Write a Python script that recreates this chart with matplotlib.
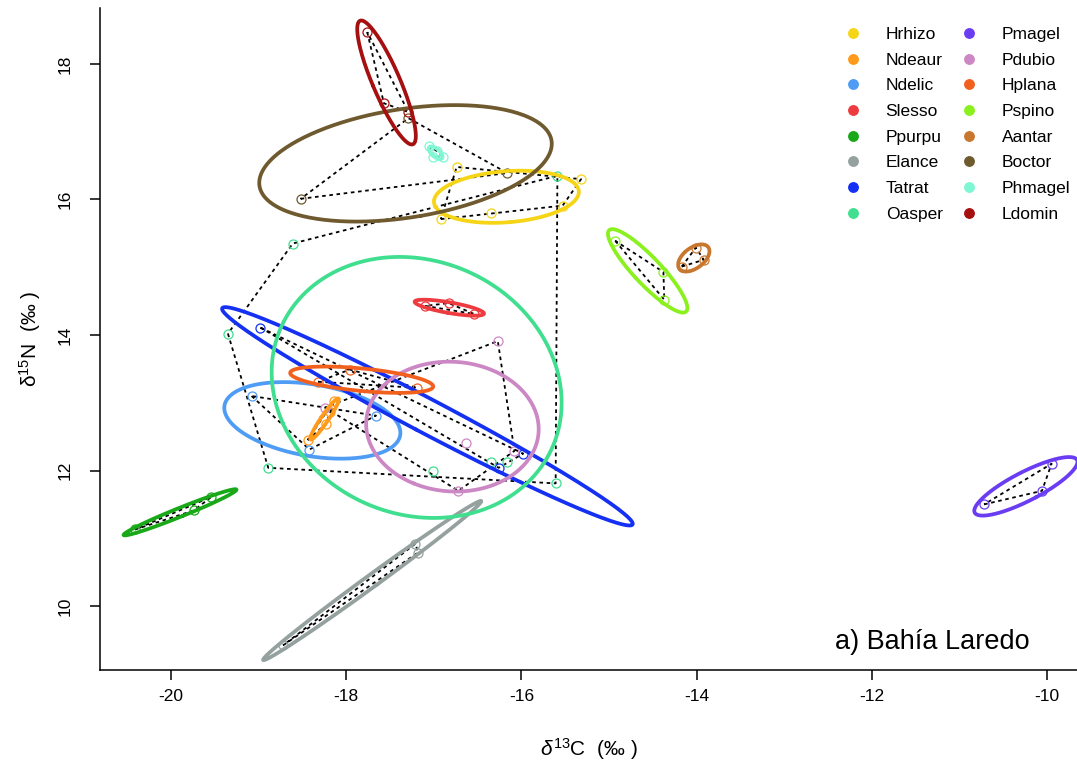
import numpy as np
import matplotlib
matplotlib.use('Agg')
import matplotlib.pyplot as plt
from matplotlib.lines import Line2D

plt.rcParams['font.family'] = ['Liberation Sans', 'DejaVu Sans']
plt.rcParams['mathtext.fontset'] = 'custom'
plt.rcParams['mathtext.rm'] = 'Liberation Sans'
plt.rcParams['mathtext.it'] = 'Liberation Sans:italic'

# ---------------- data (d13C, d15N) ----------------
species = ['Hrhizo', 'Ndeaur', 'Ndelic', 'Slesso', 'Ppurpu', 'Elance', 'Tatrat', 'Oasper',
           'Pmagel', 'Pdubio', 'Hplana', 'Pspino', 'Aantar', 'Boctor', 'Phmagel', 'Ldomin']
colors = ['#F5D515', '#FF9A1A', '#4F9CF5', '#EE3B40', '#18A818', '#95A19F', '#1430F2', '#40DE8F',
          '#6A3CF2', '#CC88C4', '#F2601E', '#8AF01E', '#C8782E', '#6E5A2E', '#7FF7D2', '#A50F10']

Hrhizo_x = [-16.74, -15.32, -15.53, -16.35, -16.92]
Hrhizo_y = [16.48, 16.30, 15.91, 15.80, 15.71]
Ndeaur_x = [-18.14, -18.18, -18.23, -18.44]
Ndeaur_y = [13.03, 12.87, 12.69, 12.45]
Ndelic_x = [-19.08, -18.42, -17.66]
Ndelic_y = [13.10, 12.31, 12.81]
Slesso_x = [-17.10, -16.83, -16.54]
Slesso_y = [14.43, 14.47, 14.31]
Ppurpu_x = [-20.41, -19.74, -19.54]
Ppurpu_y = [11.13, 11.41, 11.61]
Elance_x = [-17.21, -17.18, -18.72]
Elance_y = [10.92, 10.79, 9.42]
Tatrat_x = [-18.98, -15.98, -16.26]
Tatrat_y = [14.11, 12.25, 12.04]
Oasper_x = [-18.61, -15.59, -19.35, -18.89, -17.01, -16.35, -16.16, -15.61]
Oasper_y = [15.35, 16.35, 14.02, 12.04, 12.00, 12.12, 12.12, 11.81]
Pmagel_x = [-10.72, -9.95, -10.06]
Pmagel_y = [11.50, 12.10, 11.70]
Pdubio_x = [-18.24, -16.27, -16.63, -16.08, -16.72]
Pdubio_y = [12.93, 13.91, 12.41, 12.29, 11.70]
Hplana_x = [-18.32, -17.96, -17.19]
Hplana_y = [13.31, 13.49, 13.22]
Pspino_x = [-14.93, -14.38, -14.37]
Pspino_y = [15.39, 14.93, 14.52]
Aantar_x = [-14.01, -13.92, -14.17]
Aantar_y = [15.29, 15.11, 15.01]
Boctor_x = [-17.29, -18.52, -16.16]
Boctor_y = [17.20, 16.01, 16.39]
Phmagel_x = [-17.05, -16.96, -17.01, -16.90]
Phmagel_y = [16.79, 16.71, 16.63, 16.63]
Ldomin_x = [-17.76, -17.57, -17.29]
Ldomin_y = [18.47, 17.42, 17.29]

data_x = [Hrhizo_x, Ndeaur_x, Ndelic_x, Slesso_x, Ppurpu_x, Elance_x, Tatrat_x, Oasper_x,
          Pmagel_x, Pdubio_x, Hplana_x, Pspino_x, Aantar_x, Boctor_x, Phmagel_x, Ldomin_x]
data_y = [Hrhizo_y, Ndeaur_y, Ndelic_y, Slesso_y, Ppurpu_y, Elance_y, Tatrat_y, Oasper_y,
          Pmagel_y, Pdubio_y, Hplana_y, Pspino_y, Aantar_y, Boctor_y, Phmagel_y, Ldomin_y]

x_ticks = [-20, -18, -16, -14, -12, -10]
y_ticks = [10, 12, 14, 16, 18]


def convex_hull(pts):
    pts = sorted(set(pts))
    if len(pts) <= 2:
        return pts

    def cross(o, a, b):
        return (a[0] - o[0]) * (b[1] - o[1]) - (a[1] - o[1]) * (b[0] - o[0])
    lower, upper = [], []
    for p in pts:
        while len(lower) >= 2 and cross(lower[-2], lower[-1], p) <= 0:
            lower.pop()
        lower.append(p)
    for p in reversed(pts):
        while len(upper) >= 2 and cross(upper[-2], upper[-1], p) <= 0:
            upper.pop()
        upper.append(p)
    return lower[:-1] + upper[:-1]


def sea_c(x, y, npts=300):
    x = np.asarray(x); y = np.asarray(y)
    n = len(x)
    S = np.cov(x, y) * (n - 1) / (n - 2)
    vals, vecs = np.linalg.eigh(S)
    t = np.linspace(0, 2 * np.pi, npts)
    circ = np.vstack([np.cos(t), np.sin(t)]) * np.sqrt(np.maximum(vals, 0))[:, None]
    e = vecs @ circ
    return e[0] + x.mean(), e[1] + y.mean()


fig = plt.figure(figsize=(10.77, 7.63), dpi=100)
ax = fig.add_axes([100 / 1077, 93 / 763, 977 / 1077, 662 / 763])

for xs, ys, c in zip(data_x, data_y, colors):
    ax.plot(xs, ys, linestyle='none', marker='o', markersize=6.5, markerfacecolor='none',
            markeredgecolor=c, markeredgewidth=0.9, zorder=3)
    hull = convex_hull(list(zip(xs, ys)))
    hx = [p[0] for p in hull] + [hull[0][0]]
    hy = [p[1] for p in hull] + [hull[0][1]]
    ax.plot(hx, hy, color='black', linestyle=(0, (2, 2)), linewidth=1.3, zorder=2)

for xs, ys, c in zip(data_x, data_y, colors):
    ex, ey = sea_c(xs, ys)
    ax.plot(ex, ey, color=c, linewidth=2.7, zorder=4, solid_capstyle='round')

ax.set_xlim(-20.81, -9.66)
ax.set_ylim(9.056, 18.826)
ax.set_xticks(x_ticks)
ax.set_yticks(y_ticks)
ax.set_xticklabels([str(v) for v in x_ticks])
ax.set_yticklabels([str(v) for v in y_ticks], rotation=90, va='center')
ax.spines['top'].set_visible(False)
ax.spines['right'].set_visible(False)
for s in ('left', 'bottom'):
    ax.spines[s].set_linewidth(1.1)
ax.tick_params(axis='both', direction='out', length=7, width=1.1, labelsize=12.5)
ax.tick_params(axis='x', pad=7)
ax.tick_params(axis='y', pad=13)

ax.set_xlabel(r'$\mathit{δ}^{13}\mathrm{C}$  (‰ )', fontsize=15, labelpad=23)
ax.set_ylabel(r'$\mathrm{δ}^{15}\mathrm{N}$  (‰ )', fontsize=15, labelpad=10)

ax.text(0.952, 0.042, 'a) Bahía Laredo', transform=ax.transAxes, ha='right', va='center',
        fontsize=19.5)

handles = [Line2D([], [], linestyle='none', marker='o', markersize=6.8, markerfacecolor=c,
                  markeredgecolor=c) for c in colors]
fig.legend(handles, species, ncol=2, frameon=False, fontsize=12.5, loc='upper left',
           bbox_to_anchor=(844 / 1077, 1 - 27 / 763), handlelength=1.0, handletextpad=1.4,
           columnspacing=1.0, labelspacing=0.605, borderpad=0, borderaxespad=0)

fig.savefig('out.png', dpi=100)
